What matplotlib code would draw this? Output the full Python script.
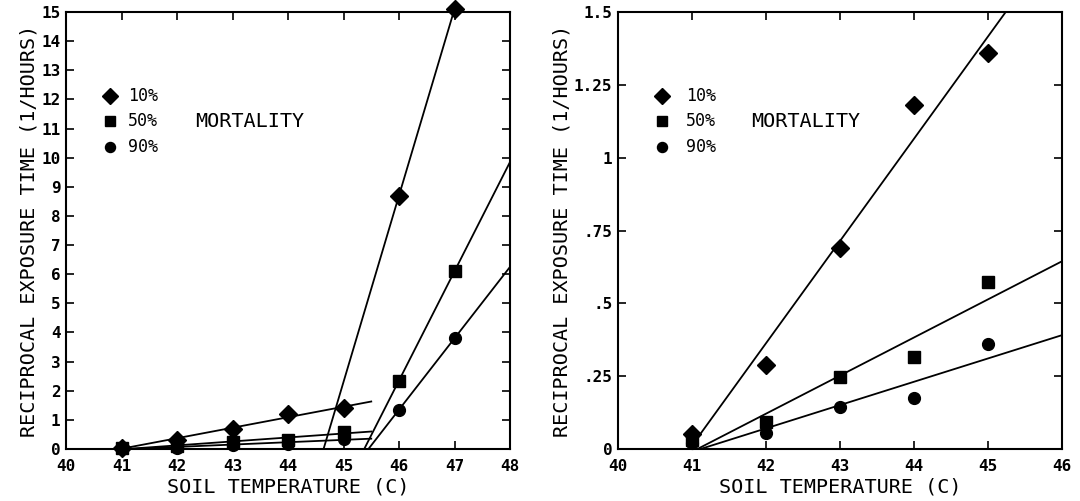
import numpy as np
import matplotlib
matplotlib.use("Agg")
import matplotlib.pyplot as plt

# Soil temperature (C) and reciprocal exposure time (1/hours) for each mortality level
temps_all = [41, 42, 43, 44, 45, 46, 47]
rate_10_all = [0.05, 0.30, 0.70, 1.20, 1.40, 8.70, 15.10]
rate_50_all = [0.03, 0.10, 0.25, 0.32, 0.60, 2.35, 6.10]
rate_90_all = [0.02, 0.05, 0.15, 0.18, 0.36, 1.35, 3.80]

temps_low = [41, 42, 43, 44, 45]
rate_10_low = [0.05, 0.29, 0.69, 1.18, 1.36]
rate_50_low = [0.03, 0.094, 0.247, 0.316, 0.573]
rate_90_low = [0.02, 0.055, 0.144, 0.175, 0.36]

series_labels = ["10%", "50%", "90%"]
markers = ["D", "s", "o"]
marker_sizes = [9, 8, 8.5]

left_yticks = list(range(0, 16))
left_xticks = list(range(40, 49))
right_yticks = [0, 0.25, 0.5, 0.75, 1.0, 1.25, 1.5]
right_yticklabels = ["0", ".25", ".5", ".75", "1", "1.25", "1.5"]
right_xticks = list(range(40, 47))

FONT = "DejaVu Sans Mono"
plt.rcParams["font.family"] = FONT

fig = plt.figure(figsize=(10.8, 5.01), dpi=100)
ax1 = fig.add_axes([66 / 1080, 52 / 501, 444 / 1080, 437 / 501])
ax2 = fig.add_axes([618 / 1080, 52 / 501, 444 / 1080, 437 / 501])


def fit_line(ax, x, y, x_end):
    slope, intercept = np.polyfit(x, y, 1)
    x0 = -intercept / slope
    xs = np.array([x0, x_end])
    ax.plot(xs, slope * xs + intercept, color="black", lw=1.3, zorder=2)


def style_axes(ax, xlim, ylim, xticks, yticks, yticklabels=None):
    ax.set_xlim(*xlim)
    ax.set_ylim(*ylim)
    ax.set_xticks(xticks)
    ax.set_yticks(yticks)
    if yticklabels is not None:
        ax.set_yticklabels(yticklabels)
    ax.tick_params(direction="in", length=6, width=1.2, top=True, right=True,
                   labelsize=11.5)
    ax.tick_params(axis="x", pad=7)
    ax.tick_params(axis="y", pad=4)
    for lab in ax.get_xticklabels() + ax.get_yticklabels():
        lab.set_fontweight("bold")
    for s in ax.spines.values():
        s.set_linewidth(1.5)
    ax.set_xlabel("SOIL TEMPERATURE (C)", fontsize=14.5, labelpad=3)
    ax.set_ylabel("RECIPROCAL EXPOSURE TIME (1/HOURS)", fontsize=14.5, labelpad=2)


def legend_block(ax, x_mark, x_text, x_title, ys):
    for m, ms, lab, yy in zip(markers, marker_sizes, series_labels, ys):
        ax.plot([x_mark], [yy], marker=m, ms=ms * 0.85, color="black",
                linestyle="none", transform=ax.transAxes, clip_on=False)
        ax.text(x_text, yy, lab, transform=ax.transAxes, fontsize=12,
                va="center", ha="left")
    ax.text(x_title, ys[1], "MORTALITY", transform=ax.transAxes, fontsize=14.5,
            va="center", ha="left")


# Left panel: full temperature range with two linear segments per level
for ys, m, ms in zip([rate_10_all, rate_50_all, rate_90_all], markers, marker_sizes):
    ax1.plot(temps_all, ys, marker=m, ms=ms, color="black", linestyle="none",
             clip_on=False, zorder=3)
    fit_line(ax1, temps_all[:5], ys[:5], 45.5)
    fit_line(ax1, temps_all[5:], ys[5:], 48.5)

style_axes(ax1, (40, 48), (0, 15), left_xticks, left_yticks)
legend_block(ax1, 0.1, 0.14, 0.29, [0.807, 0.75, 0.69])

# Right panel: 41-45 C on an expanded scale
for ys, m, ms in zip([rate_10_low, rate_50_low, rate_90_low], markers, marker_sizes):
    ax2.plot(temps_low, ys, marker=m, ms=ms, color="black", linestyle="none",
             clip_on=False, zorder=3)
    fit_line(ax2, temps_low, ys, 46.5)

style_axes(ax2, (40, 46), (0, 1.5), right_xticks, right_yticks, right_yticklabels)
legend_block(ax2, 0.1, 0.153, 0.3, [0.807, 0.75, 0.69])

fig.savefig("out.png", dpi=100)
